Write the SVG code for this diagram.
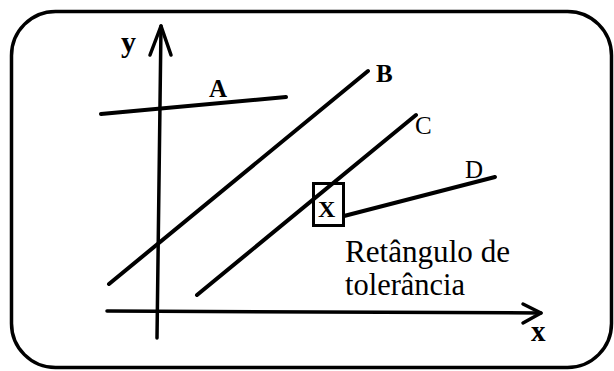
<svg xmlns="http://www.w3.org/2000/svg" width="614" height="371" viewBox="0 0 614 371">
<defs>
<style>
.ln{stroke:#000;stroke-width:4;stroke-linecap:round;fill:none}
.ax{stroke:#000;stroke-width:3.5;stroke-linecap:round;stroke-linejoin:round;fill:none}
.lb{font-family:'Liberation Serif','DejaVu Serif','Times New Roman',serif;fill:#000}
.b{font-weight:bold}
</style>
</defs>
<rect x="11.5" y="11.5" width="600" height="356" rx="44" ry="44" fill="#fff" stroke="#000" stroke-width="3.5"/>
<g id="axes">
<line class="ax" x1="161" y1="26" x2="157" y2="338"/>
<polyline class="ax" points="150,55 161,26 171,55"/>
<line class="ax" x1="107" y1="311" x2="541" y2="313"/>
<polyline class="ax" points="523,304 541,313 523,323"/>
<text class="lb b" x="121" y="52" font-size="30" font-family="Liberation Serif, serif">y</text>
<text class="lb b" x="531" y="341" font-size="29" font-family="Liberation Serif, serif">x</text>
</g>
<g id="connectors">
<line id="lineA" class="ln" x1="101" y1="114" x2="286" y2="97"/>
<line id="lineB" class="ln" x1="109" y1="284" x2="368" y2="71"/>
<line id="lineC" class="ln" x1="197" y1="295" x2="416" y2="115"/>
<line id="lineD" class="ln" x1="344" y1="216" x2="495" y2="177"/>
</g>
<g id="labels">
<text class="lb b" x="209" y="97" font-size="25" font-family="Liberation Serif, serif">A</text>
<text class="lb b" x="376" y="82" font-size="25" font-family="Liberation Serif, serif">B</text>
<text class="lb" x="415" y="134" font-size="25" font-family="Liberation Serif, serif">C</text>
<text class="lb" x="465" y="178" font-size="25" font-family="Liberation Serif, serif">D</text>
</g>
<g id="tolerance">
<rect x="313.5" y="183.5" width="30" height="42" fill="none" stroke="#000" stroke-width="3"/>
<text class="lb b" x="318" y="217" font-size="24" font-family="Liberation Serif, serif">X</text>
<text class="lb" x="345" y="262" font-size="31" font-family="Liberation Serif, serif" textLength="165" lengthAdjust="spacingAndGlyphs">Retângulo de</text>
<text class="lb" x="345" y="295" font-size="31" font-family="Liberation Serif, serif" textLength="120" lengthAdjust="spacingAndGlyphs">tolerância</text>
</g>
</svg>
